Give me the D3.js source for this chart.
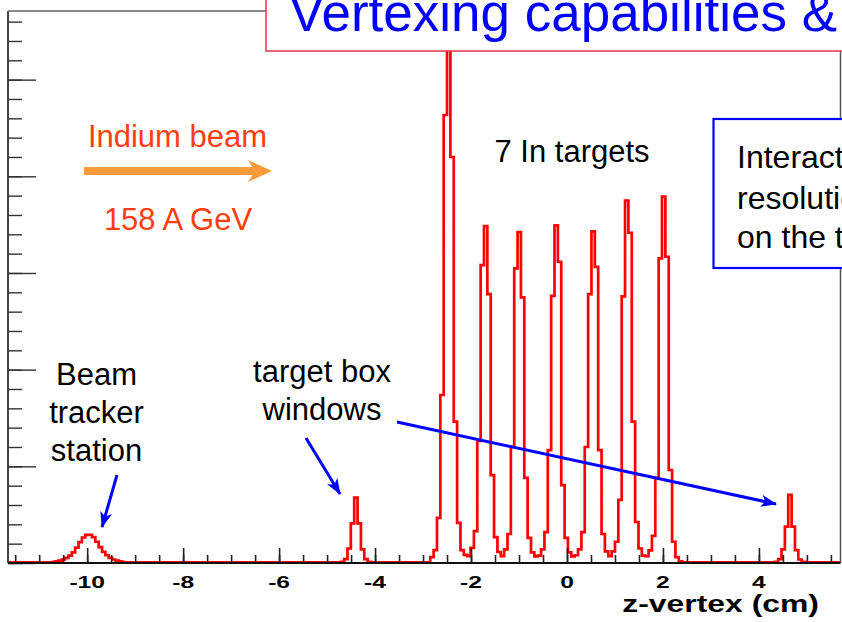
<!DOCTYPE html>
<html>
<head>
<meta charset="utf-8">
<script src="https://cdn.jsdelivr.net/npm/d3@7"></script>
<style>
  body { margin: 0; background: #fff; }
  svg { display: block; font-family: "Liberation Sans", Arial, Helvetica, sans-serif; }
</style>
</head>
<body>
<svg id="chart" width="842" height="622"></svg>
<script>
// histogram binning (cm)
const binWidth = 0.07;
const zRange = [-11.65, 5.70];
const baseCount = 4;

// beam tracker station bump
const trackerStart = -10.74;
const trackerCounts = [5, 8, 12, 18, 26, 38, 55, 80, 108, 132, 145, 146, 134, 110, 82, 58, 40, 27, 18, 12, 8, 5];

// upstream target box window
const window1Start = -4.715;
const window1Counts = [6, 20, 75, 205, 338, 205, 70, 20, 6];

// 7 indium targets
const targetStart = -2.85;
const targetCounts = [
  30, 67, 233, 869, 2317, 2840, 2100, 731, 208, 67,
  42, 36, 78, 165, 631, 1541, 1743, 1391, 455, 134,
  57, 36, 70, 150, 601, 1524, 1712, 1374, 440, 130,
  55, 34, 38, 70, 160, 584, 1382, 1746, 1558, 403,
  130, 55, 34, 40, 70, 160, 600, 1391, 1715, 1532,
  584, 150, 60, 35, 60, 110, 326, 1379, 1874, 1708,
  731, 212, 75, 38, 36, 65, 140, 440, 1576, 1895,
  1584, 481, 110, 30, 8, 4
];

// downstream target box window
const window2Start = 4.331;
const window2Counts = [6, 20, 70, 188, 352, 188, 67, 18, 6];

// axis ticks
const xMajorTicks = [-10, -8, -6, -4, -2, 0, 2, 4];
const xMinorTicks = d3.range(-11.5, 5.6, 0.5);
const yMajorTicks = [0, 500, 1000, 1500, 2000, 2500];
const yMinorTicks = d3.range(0, 2801, 100);
const yTop = 2855;

const svg = d3.select('#chart');
const frame = { left: 8, right: 840.5, top: 11, bottom: 563 };

const x = d3.scaleLinear().domain(zRange).range([frame.left, frame.right]);
const y = d3.scaleLinear().domain([0, yTop]).range([frame.bottom, frame.top]);

// ---- histogram outline ----
const regions = [
  [trackerStart, trackerCounts],
  [window1Start, window1Counts],
  [targetStart, targetCounts],
  [window2Start, window2Counts]
];
const pts = [[zRange[0], baseCount]];
regions.forEach(([start, counts]) => {
  counts.forEach((c, i) => pts.push([start + i * binWidth, c]));
  pts.push([start + counts.length * binWidth, baseCount]);
});
pts.push([zRange[1], baseCount]);

svg.append('clipPath').attr('id', 'frameClip')
  .append('rect')
  .attr('x', frame.left).attr('y', frame.top)
  .attr('width', frame.right - frame.left).attr('height', frame.bottom - frame.top);

const line = d3.line()
  .x(d => x(d[0]))
  .y(d => y(d[1]))
  .curve(d3.curveStepAfter);

svg.append('path')
  .datum(pts)
  .attr('clip-path', 'url(#frameClip)')
  .attr('d', line)
  .attr('fill', 'none')
  .attr('stroke', '#ff0000')
  .attr('stroke-width', 2.7)
  .attr('stroke-linejoin', 'miter');

// ---- frame + axes ----
svg.append('line')
  .attr('x1', frame.left).attr('x2', frame.left)
  .attr('y1', frame.top).attr('y2', frame.bottom)
  .attr('stroke', '#444').attr('stroke-width', 2);
svg.append('line')
  .attr('x1', frame.left).attr('x2', frame.right)
  .attr('y1', frame.top).attr('y2', frame.top)
  .attr('stroke', '#666').attr('stroke-width', 1.5);
svg.append('line')
  .attr('x1', frame.right).attr('x2', frame.right)
  .attr('y1', frame.top).attr('y2', frame.bottom)
  .attr('stroke', '#555').attr('stroke-width', 1.5);

const xMinorG = svg.append('g')
  .attr('transform', `translate(0,${frame.bottom})`)
  .call(d3.axisBottom(x).tickValues(xMinorTicks).tickSize(-8).tickFormat(''));
const xMajorG = svg.append('g')
  .attr('transform', `translate(0,${frame.bottom})`)
  .call(d3.axisBottom(x).tickValues(xMajorTicks).tickSize(-15).tickFormat(''));
[xMinorG, xMajorG].forEach(g => {
  g.select('.domain').remove();
  g.selectAll('.tick line').attr('stroke', '#222').attr('stroke-width', 1.6);
});

const yMinorG = svg.append('g')
  .attr('transform', `translate(${frame.left},0)`)
  .call(d3.axisRight(y).tickValues(yMinorTicks).tickSize(14).tickFormat(''));
const yMajorG = svg.append('g')
  .attr('transform', `translate(${frame.left},0)`)
  .call(d3.axisRight(y).tickValues(yMajorTicks).tickSize(28).tickFormat(''));
[yMinorG, yMajorG].forEach(g => {
  g.select('.domain').remove();
  g.selectAll('.tick line').attr('stroke', '#333').attr('stroke-width', 1.4);
});

svg.append('line')
  .attr('x1', frame.left).attr('x2', frame.right)
  .attr('y1', frame.bottom).attr('y2', frame.bottom)
  .attr('stroke', '#111').attr('stroke-width', 2);

// tick labels (plot image is stretched horizontally)
svg.append('g').selectAll('text').data(xMajorTicks)
  .enter().append('text')
  .attr('transform', d => `translate(${x(d)},588) scale(1.45,1)`)
  .attr('text-anchor', 'middle')
  .attr('font-weight', 'bold')
  .attr('font-size', 17)
  .attr('fill', '#000')
  .text(d => d);

svg.append('text')
  .attr('transform', 'translate(819,612) scale(1.33,1)')
  .attr('text-anchor', 'end')
  .attr('font-weight', 'bold')
  .attr('font-size', 24)
  .attr('fill', '#000')
  .text('z-vertex (cm)');

// ---- annotations ----
const defs = svg.append('defs');
defs.append('marker')
  .attr('id', 'blueHead')
  .attr('viewBox', '0 0 16 12')
  .attr('refX', 15).attr('refY', 6)
  .attr('markerWidth', 16).attr('markerHeight', 12)
  .attr('markerUnits', 'userSpaceOnUse')
  .attr('orient', 'auto')
  .append('path').attr('d', 'M0,0 L16,6 L0,12 L4,6 Z').attr('fill', '#0000ff');

const blueArrows = [
  [117, 475, 102, 527],
  [306, 438, 340, 494],
  [397, 422, 776, 504]
];
svg.append('g').selectAll('line').data(blueArrows)
  .enter().append('line')
  .attr('x1', d => d[0]).attr('y1', d => d[1])
  .attr('x2', d => d[2]).attr('y2', d => d[3])
  .attr('stroke', '#0000ff').attr('stroke-width', 3)
  .attr('marker-end', 'url(#blueHead)');

// black labels
const blackLabels = [
  ['Beam', 96.5, 385], ['tracker', 96.5, 423], ['station', 96.5, 461],
  ['target box', 322, 382], ['windows', 322, 420],
  ['7 In targets', 572, 162]
];
svg.append('g').selectAll('text').data(blackLabels)
  .enter().append('text')
  .attr('x', d => d[1]).attr('y', d => d[2])
  .attr('text-anchor', 'middle')
  .attr('font-size', 31)
  .attr('fill', '#000')
  .text(d => d[0]);

// beam label + arrow
svg.append('text').attr('x', 177.5).attr('y', 147)
  .attr('text-anchor', 'middle').attr('font-size', 31)
  .attr('fill', '#ff3d0d').text('Indium beam');
svg.append('text').attr('x', 178).attr('y', 230)
  .attr('text-anchor', 'middle').attr('font-size', 31)
  .attr('fill', '#ff3d0d').text('158 A GeV');
svg.append('line')
  .attr('x1', 84).attr('x2', 258).attr('y1', 171).attr('y2', 171)
  .attr('stroke', '#fb9a3b').attr('stroke-width', 8);
svg.append('path')
  .attr('d', 'M272,171 L248,160 L255,171 L248,182 Z')
  .attr('fill', '#fb9a3b');

// right blue box (cut by the page edge, as in the slide)
svg.append('rect')
  .attr('x', 713.5).attr('y', 119).attr('width', 140).attr('height', 149)
  .attr('fill', '#fff').attr('stroke', '#0000ff').attr('stroke-width', 2.2);
const boxLines = [['Interaction', 168], ['resolution', 209], ['on the target', 248]];
svg.append('g').selectAll('text').data(boxLines)
  .enter().append('text')
  .attr('x', 737).attr('y', d => d[1])
  .attr('font-size', 32)
  .attr('fill', '#000')
  .text(d => d[0]);

// title box
svg.append('rect')
  .attr('x', 266).attr('y', -10).attr('width', 600).attr('height', 61)
  .attr('fill', '#fff').attr('stroke', '#e8324c').attr('stroke-width', 1.5);
svg.append('text')
  .attr('x', 289).attr('y', 31)
  .attr('font-size', 53)
  .attr('fill', '#0000ff')
  .text('Vertexing capabilities &');
</script>
</body>
</html>
